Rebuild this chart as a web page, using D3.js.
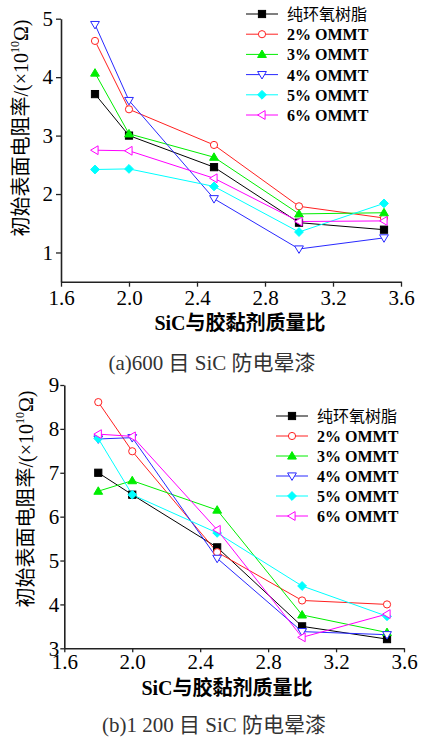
<!DOCTYPE html>
<html><head><meta charset="utf-8">
<script src="https://cdn.jsdelivr.net/npm/d3@7"></script>
<style>
body{margin:0;background:#fff;}
svg{display:block;font-family:"Liberation Serif","Noto Sans CJK SC",serif;}
</style></head><body>
<svg id="c" width="423" height="738"></svg>
<script>
const xValues = [1.8, 2.0, 2.5, 3.0, 3.5];
const seriesNames = ["纯环氧树脂", "2% OMMT", "3% OMMT", "4% OMMT", "5% OMMT", "6% OMMT"];
const seriesColors = ["#000000", "#ff2020", "#00ee00", "#2828ff", "#00ffff", "#ff00ff"];
const seriesMarkers = ["square", "circle", "triUp", "triDown", "diamond", "triLeft"];
const markerFilled = [true, false, true, false, true, false];
// (a) 600 mesh
const valuesA = [
  [3.71, 3.00, 2.46, 1.51, 1.39],
  [4.62, 3.45, 2.84, 1.79, 1.59],
  [4.07, 3.03, 2.63, 1.66, 1.68],
  [4.90, 3.60, 1.92, 1.06, 1.25],
  [2.42, 2.43, 2.13, 1.35, 1.84],
  [2.75, 2.74, 2.27, 1.53, 1.54]
];
// (b) 1200 mesh
const valuesB = [
  [7.00, 6.50, 5.30, 3.50, 3.21],
  [8.61, 7.49, 5.19, 4.09, 4.00],
  [6.58, 6.82, 6.15, 3.76, 3.36],
  [7.77, 7.80, 5.05, 3.38, 3.31],
  [7.78, 6.50, 5.63, 4.42, 3.73],
  [7.88, 7.83, 5.70, 3.25, 3.78]
];
const xTicks = [1.6, 2.0, 2.4, 2.8, 3.2, 3.6];
const yTicksA = [1, 2, 3, 4, 5];
const yTicksB = [3, 4, 5, 6, 7, 8, 9];
const xTitle = "SiC与胶黏剂质量比";
const captionA = "(a)600 目 SiC 防电晕漆";
const captionB = "(b)1 200 目 SiC 防电晕漆";

const svg = d3.select("#c");

function marker(g, type, x, y, color, filled) {
  const s = 3.6;
  let el;
  if (type === "square") {
    el = g.append("rect").attr("x", x - s).attr("y", y - s).attr("width", 2*s).attr("height", 2*s);
  } else if (type === "circle") {
    el = g.append("circle").attr("cx", x).attr("cy", y).attr("r", s);
  } else {
    let pts;
    const r = 4.4;
    if (type === "triUp") pts = [[x, y - r], [x + r, y + r*0.7], [x - r, y + r*0.7]];
    else if (type === "triDown") pts = [[x, y + r], [x + r, y - r*0.7], [x - r, y - r*0.7]];
    else if (type === "triLeft") pts = [[x - r, y], [x + r*0.7, y - r], [x + r*0.7, y + r]];
    else pts = [[x, y - r], [x + r, y], [x, y + r], [x - r, y]];
    el = g.append("polygon").attr("points", pts.map(p => p.join(",")).join(" "));
  }
  el.attr("fill", filled ? color : "#fff").attr("stroke", color).attr("stroke-width", 1);
}

function drawChart(cfg) {
  const x = d3.scaleLinear().domain([1.6, 3.6]).range([cfg.x0, cfg.x1]);
  const y = d3.scaleLinear().domain(cfg.yDomain).range([cfg.yBottom, cfg.yTop]);
  const g = svg.append("g");

  const xa = g.append("g").attr("transform", `translate(0,${cfg.yBottom})`)
    .call(d3.axisBottom(x).tickValues(xTicks).tickFormat(d3.format(".1f")).tickSize(cfg.tick).tickSizeOuter(0).tickPadding(cfg.xpad));
  const ya = g.append("g").attr("transform", `translate(${cfg.x0},0)`)
    .call(d3.axisLeft(y).tickValues(cfg.yTicks).tickFormat(d3.format("d")).tickSize(cfg.tick).tickSizeOuter(0).tickPadding(cfg.ypad));
  [xa, ya].forEach(a => {
    a.select(".domain").attr("stroke", "#222").attr("stroke-width", 1.6);
    a.selectAll(".tick line").attr("stroke", "#222").attr("stroke-width", 1.3);
    a.selectAll("text").attr("fill", "#000").attr("font-size", 21)
      .attr("font-family", "Liberation Serif, serif");
  });

  cfg.values.forEach((vals, i) => {
    const line = d3.line().x((d, j) => x(xValues[j])).y(d => y(d));
    g.append("path").datum(vals).attr("d", line).attr("fill", "none")
      .attr("stroke", seriesColors[i]).attr("stroke-width", 1);
  });
  cfg.values.forEach((vals, i) => {
    vals.forEach((v, j) => marker(g, seriesMarkers[i], x(xValues[j]), y(v), seriesColors[i], markerFilled[i]));
  });

  // legend
  seriesNames.forEach((name, i) => {
    const ly = cfg.legY + i * cfg.legDy;
    g.append("line").attr("x1", cfg.legX).attr("x2", cfg.legX + 32).attr("y1", ly).attr("y2", ly)
      .attr("stroke", seriesColors[i]).attr("stroke-width", 1);
    marker(g, seriesMarkers[i], cfg.legX + 16, ly, seriesColors[i], markerFilled[i]);
    g.append("text").attr("x", cfg.legX + 41).attr("y", ly + 6).attr("font-size", 16)
      .attr("font-weight", i === 0 ? "normal" : "bold").attr("fill", "#000").text(name);
  });

  // x title
  g.append("text").attr("x", cfg.xtX).attr("y", cfg.xtY).attr("text-anchor", "middle")
    .attr("font-size", 20).attr("font-weight", "bold").attr("fill", "#000").text(xTitle);
  // y title
  const yt = g.append("text").attr("transform", `translate(${cfg.ytX},${cfg.ytY}) rotate(-90)`)
    .attr("text-anchor", "middle").attr("dominant-baseline", "middle").attr("font-size", 20).attr("fill", "#000");
  yt.append("tspan").text("初始表面电阻率/(×10");
  yt.append("tspan").attr("font-size", 12).attr("dy", -7).text("10");
  yt.append("tspan").attr("dy", 7).text("Ω)");
  // caption
  g.append("text").attr("x", cfg.capX).attr("y", cfg.capY).attr("text-anchor", "middle")
    .attr("font-size", 21).attr("fill", "#333").text(cfg.caption);
}

drawChart({
  x0: 61, x1: 401, yTop: 18.7, yBottom: 281.7, yDomain: [0.5, 5], yTicks: yTicksA,
  values: valuesA, tick: 5, xpad: 3, ypad: 3,
  legX: 246, legY: 14, legDy: 20.2,
  xtX: 240, xtY: 330, ytX: 23, ytY: 128, capX: 212, capY: 370, caption: captionA
});
drawChart({
  x0: 64.3, x1: 404, yTop: 385, yBottom: 648.3, yDomain: [3, 9], yTicks: yTicksB,
  values: valuesB, tick: 4, xpad: 2, ypad: 1,
  legX: 276, legY: 416, legDy: 20,
  xtX: 227, xtY: 695, ytX: 28, ytY: 499, capX: 214, capY: 732, caption: captionB
});
</script>
</body></html>
